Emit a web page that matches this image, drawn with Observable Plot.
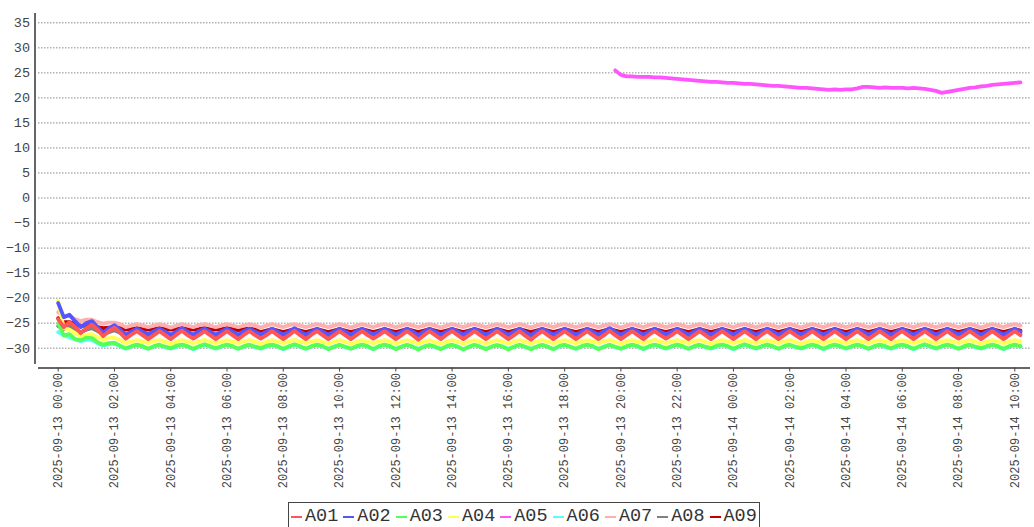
<!DOCTYPE html>
<html>
<head>
<meta charset="utf-8">
<script src="https://cdn.jsdelivr.net/npm/d3@7"></script>
<script src="https://cdn.jsdelivr.net/npm/@observablehq/plot@0.6"></script>
<style>
  body { margin: 0; background: #fff; }
  #wrap { position: relative; width: 1034px; height: 527px; overflow: hidden; }
  #legend {
    position: absolute; left: 288px; top: 502px;
    border: 1px solid #444; box-sizing: border-box;
    height: 30px; padding: 3px 2px 0 2px;
    display: flex; align-items: flex-start;
    font-family: "Liberation Mono", monospace; font-size: 18.5px; line-height: 21px; color: #333;
    white-space: nowrap;
  }
  .item { display: flex; align-items: center; margin-right: 5px; }
  .item:last-child { margin-right: 0; }
  .swatch { display: inline-block; width: 11px; height: 2px; margin-right: 3px; }
</style>
</head>
<body>
<div id="wrap"><div id="chart"></div><div id="legend"></div></div>
<script>
// ---- data ----
const seriesNames = ["A01", "A02", "A03", "A04", "A05", "A06", "A07", "A08", "A09"];
const seriesColors = ["#ff5555", "#5555ff", "#55ff55", "#ffff55", "#ff55ff", "#55ffff", "#ffafaf", "#808080", "#c00000"];
const startTime = "2025-09-13T00:00:00Z";
const stepMinutes = 12;
const A05StartIndex = 99;
const yTicks = [-30, -25, -20, -15, -10, -5, 0, 5, 10, 15, 20, 25, 30, 35];
const xTickLabels = [
  "2025-09-13 00:00", "2025-09-13 02:00", "2025-09-13 04:00", "2025-09-13 06:00",
  "2025-09-13 08:00", "2025-09-13 10:00", "2025-09-13 12:00", "2025-09-13 14:00",
  "2025-09-13 16:00", "2025-09-13 18:00", "2025-09-13 20:00", "2025-09-13 22:00",
  "2025-09-14 00:00", "2025-09-14 02:00", "2025-09-14 04:00", "2025-09-14 06:00",
  "2025-09-14 08:00", "2025-09-14 10:00"
];

const A01 = [
-24.2,-25.8,-24.8,-25.7,-27.0,-26.0,-25.3,-26.3,-27.6,-26.6,-25.9,-26.9,
-28.1,-27.3,-26.6,-27.4,-28.2,-27.4,-26.6,-27.4,-28.2,-27.3,-26.5,-27.4,-28.1,-27.4,-26.6,-27.4,
-28.2,-27.4,-26.6,-27.4,-28.2,-27.3,-26.6,-27.4,-28.1,-27.4,-26.6,-27.4,-28.2,-27.4,-26.5,-27.4,
-28.2,-27.3,-26.6,-27.4,-28.2,-27.4,-26.6,-27.4,-28.2,-27.4,-26.6,-27.4,-28.1,-27.4,-26.6,-27.4,
-28.2,-27.4,-26.6,-27.4,-28.3,-27.4,-26.6,-27.4,-28.2,-27.3,-26.6,-27.4,-28.2,-27.4,-26.6,-27.4,
-28.2,-27.4,-26.6,-27.4,-28.2,-27.4,-26.6,-27.5,-28.3,-27.4,-26.6,-27.4,-28.2,-27.4,-26.6,-27.4,
-28.2,-27.4,-26.6,-27.4,-28.2,-27.4,-26.5,-27.4,-28.2,-27.4,-26.6,-27.4,-28.2,-27.3,-26.6,-27.4,
-28.1,-27.4,-26.6,-27.4,-28.2,-27.4,-26.6,-27.4,-28.2,-27.4,-26.6,-27.4,-28.2,-27.4,-26.6,-27.4,
-28.2,-27.3,-26.6,-27.4,-28.2,-27.4,-26.6,-27.4,-28.1,-27.4,-26.6,-27.4,-28.2,-27.4,-26.6,-27.4,
-28.2,-27.4,-26.6,-27.4,-28.2,-27.4,-26.6,-27.4,-28.2,-27.3,-26.6,-27.4,-28.2,-27.4,-26.6,-27.4,
-28.2,-27.4,-26.6,-27.4,-28.1,-27.4,-26.6,-27.4,-28.2,-27.4,-26.6,-27.4,-28.2,-27.4,-26.6,-27.4
];
const A02 = [
-21.0,-23.8,-23.3,-24.6,-25.8,-25.0,-24.6,-25.8,-26.9,-26.0,-25.4,-26.3,
-27.3,-26.7,-26.1,-26.7,-27.2,-26.6,-26.1,-26.7,-27.3,-26.7,-26.0,-26.7,-27.3,-26.6,-26.1,-26.7,
-27.3,-26.7,-26.1,-26.7,-27.3,-26.6,-26.1,-26.7,-27.2,-26.7,-26.1,-26.7,-27.3,-26.7,-26.0,-26.7,
-27.3,-26.7,-26.1,-26.7,-27.3,-26.7,-26.1,-26.7,-27.3,-26.6,-26.1,-26.7,-27.2,-26.7,-26.1,-26.7,
-27.3,-26.7,-26.1,-26.7,-27.4,-26.7,-26.1,-26.7,-27.3,-26.7,-26.1,-26.7,-27.3,-26.6,-26.1,-26.7,
-27.3,-26.7,-26.1,-26.7,-27.3,-26.7,-26.1,-26.8,-27.4,-26.7,-26.1,-26.7,-27.3,-26.7,-26.1,-26.7,
-27.3,-26.7,-26.1,-26.7,-27.3,-26.6,-26.0,-26.7,-27.3,-26.7,-26.1,-26.7,-27.3,-26.7,-26.1,-26.7,
-27.2,-26.7,-26.1,-26.7,-27.3,-26.7,-26.1,-26.7,-27.3,-26.7,-26.1,-26.7,-27.3,-26.6,-26.1,-26.7,
-27.3,-26.7,-26.1,-26.7,-27.3,-26.7,-26.1,-26.7,-27.2,-26.7,-26.1,-26.7,-27.3,-26.7,-26.1,-26.7,
-27.3,-26.7,-26.1,-26.7,-27.3,-26.7,-26.1,-26.7,-27.3,-26.7,-26.1,-26.7,-27.3,-26.7,-26.1,-26.7,
-27.3,-26.7,-26.1,-26.7,-27.2,-26.7,-26.1,-26.7,-27.3,-26.7,-26.1,-26.7,-27.3,-26.7,-26.1,-26.7
];
const A03 = [
-25.0,-27.5,-27.2,-28.2,-28.4,-27.9,-28.0,-28.8,-29.3,-29.0,-28.9,-29.5,
-30.0,-29.6,-29.3,-29.6,-30.1,-29.6,-29.3,-29.7,-30.0,-29.5,-29.3,-29.6,-30.1,-29.6,-29.2,-29.6,
-30.0,-29.6,-29.3,-29.6,-30.1,-29.6,-29.3,-29.7,-30.0,-29.5,-29.3,-29.6,-30.1,-29.6,-29.2,-29.6,
-30.1,-29.6,-29.3,-29.6,-30.2,-29.7,-29.3,-29.7,-30.1,-29.6,-29.3,-29.6,-30.2,-29.6,-29.3,-29.6,
-30.2,-29.7,-29.3,-29.7,-30.3,-29.7,-29.4,-29.7,-30.2,-29.6,-29.3,-29.7,-30.3,-29.7,-29.3,-29.7,
-30.2,-29.7,-29.4,-29.7,-30.3,-29.7,-29.3,-29.7,-30.2,-29.7,-29.3,-29.7,-30.2,-29.6,-29.3,-29.7,
-30.1,-29.6,-29.3,-29.6,-30.2,-29.7,-29.3,-29.7,-30.1,-29.6,-29.3,-29.6,-30.1,-29.6,-29.3,-29.6,
-30.0,-29.6,-29.3,-29.6,-30.1,-29.6,-29.3,-29.7,-30.0,-29.5,-29.3,-29.6,-30.1,-29.6,-29.2,-29.6,
-30.0,-29.6,-29.3,-29.6,-30.1,-29.6,-29.3,-29.7,-30.0,-29.6,-29.3,-29.6,-30.1,-29.6,-29.3,-29.6,
-30.0,-29.6,-29.3,-29.6,-30.1,-29.6,-29.3,-29.6,-30.0,-29.5,-29.3,-29.6,-30.1,-29.6,-29.2,-29.6,
-30.0,-29.6,-29.3,-29.6,-30.1,-29.6,-29.3,-29.7,-30.0,-29.6,-29.3,-29.6,-30.1,-29.6,-29.3,-29.6
];
const A04 = [
-20.6,-26.0,-26.3,-27.0,-27.6,-27.3,-27.2,-27.8,-28.3,-28.0,-27.9,-28.4,
-29.0,-28.7,-28.4,-28.7,-29.0,-28.6,-28.4,-28.7,-29.1,-28.7,-28.4,-28.7,-29.0,-28.7,-28.3,-28.7,
-29.0,-28.7,-28.4,-28.7,-29.0,-28.6,-28.4,-28.7,-29.1,-28.7,-28.4,-28.7,-29.0,-28.7,-28.3,-28.7,
-29.0,-28.7,-28.4,-28.7,-29.1,-28.7,-28.4,-28.7,-29.1,-28.7,-28.4,-28.7,-29.0,-28.7,-28.4,-28.7,
-29.1,-28.7,-28.4,-28.7,-29.1,-28.7,-28.4,-28.8,-29.1,-28.7,-28.4,-28.7,-29.1,-28.7,-28.4,-28.7,
-29.1,-28.7,-28.4,-28.7,-29.1,-28.7,-28.4,-28.7,-29.1,-28.7,-28.4,-28.7,-29.0,-28.7,-28.4,-28.7,
-29.0,-28.7,-28.4,-28.7,-29.0,-28.6,-28.4,-28.7,-29.1,-28.7,-28.4,-28.7,-29.0,-28.7,-28.3,-28.7,
-29.0,-28.7,-28.4,-28.7,-29.0,-28.6,-28.4,-28.7,-29.1,-28.7,-28.4,-28.7,-29.0,-28.7,-28.3,-28.7,
-29.0,-28.7,-28.4,-28.7,-29.0,-28.7,-28.4,-28.7,-29.1,-28.7,-28.4,-28.7,-29.0,-28.7,-28.4,-28.7,
-29.0,-28.7,-28.4,-28.7,-29.0,-28.6,-28.4,-28.7,-29.0,-28.7,-28.4,-28.7,-29.0,-28.7,-28.3,-28.7,
-29.0,-28.7,-28.4,-28.7,-29.0,-28.7,-28.4,-28.7,-29.1,-28.7,-28.4,-28.7,-29.0,-28.7,-28.4,-28.7
];
const A05 = [
25.5, 24.6, 24.3, 24.3, 24.2, 24.2, 24.2, 24.1, 24.1, 24.0,
23.9, 23.8, 23.7, 23.6, 23.5, 23.4, 23.3, 23.2, 23.2, 23.1,
23.0, 23.0, 22.9, 22.8, 22.8, 22.7, 22.6, 22.5, 22.4, 22.4,
22.3, 22.2, 22.1, 22.0, 22.0, 21.9, 21.8, 21.7, 21.6, 21.7,
21.6, 21.7, 21.7, 21.9, 22.2, 22.2, 22.1, 22.0, 22.1, 22.0,
22.0, 22.0, 21.9, 22.0, 21.9, 21.8, 21.6, 21.4, 21.0, 21.2,
21.4, 21.6, 21.8, 22.0, 22.1, 22.3, 22.4, 22.6, 22.7, 22.8,
22.9, 23.0, 23.1
];
const A06 = [
-26.8,-27.3,-27.9,-28.2,-28.6,-28.3,-28.4,-29.0,-29.5,-29.2,-29.1,-29.6,
-30.1,-29.7,-29.4,-29.7,-30.1,-29.7,-29.4,-29.8,-30.1,-29.7,-29.4,-29.7,-30.2,-29.7,-29.4,-29.7,
-30.1,-29.7,-29.4,-29.7,-30.1,-29.7,-29.4,-29.8,-30.1,-29.7,-29.4,-29.7,-30.2,-29.7,-29.4,-29.7,
-30.1,-29.7,-29.4,-29.7,-30.1,-29.7,-29.4,-29.8,-30.1,-29.7,-29.4,-29.7,-30.2,-29.7,-29.4,-29.7,
-30.1,-29.7,-29.4,-29.7,-30.1,-29.7,-29.4,-29.8,-30.1,-29.7,-29.4,-29.7,-30.2,-29.7,-29.4,-29.7,
-30.1,-29.7,-29.4,-29.7,-30.1,-29.7,-29.4,-29.8,-30.1,-29.7,-29.4,-29.7,-30.2,-29.7,-29.4,-29.7,
-30.1,-29.7,-29.4,-29.7,-30.1,-29.7,-29.4,-29.8,-30.1,-29.7,-29.4,-29.7,-30.2,-29.7,-29.4,-29.7,
-30.1,-29.7,-29.4,-29.7,-30.1,-29.7,-29.4,-29.8,-30.1,-29.7,-29.4,-29.7,-30.2,-29.7,-29.4,-29.7,
-30.1,-29.7,-29.4,-29.7,-30.1,-29.7,-29.4,-29.8,-30.1,-29.7,-29.4,-29.7,-30.2,-29.7,-29.4,-29.7,
-30.1,-29.7,-29.4,-29.7,-30.1,-29.7,-29.4,-29.8,-30.1,-29.7,-29.4,-29.7,-30.2,-29.7,-29.4,-29.7,
-30.1,-29.7,-29.4,-29.7,-30.1,-29.7,-29.4,-29.8,-30.1,-29.7,-29.4,-29.7,-30.2,-29.7,-29.4,-29.7
];
const A07 = [
-22.8,-23.6,-23.6,-24.2,-24.6,-24.3,-24.3,-24.8,-25.1,-24.9,-24.9,-25.2,
-25.8,-25.5,-25.2,-25.5,-25.8,-25.5,-25.2,-25.5,-25.9,-25.5,-25.2,-25.5,-25.8,-25.4,-25.2,-25.5,
-25.8,-25.5,-25.2,-25.5,-25.8,-25.5,-25.2,-25.5,-25.9,-25.5,-25.2,-25.5,-25.8,-25.4,-25.2,-25.5,
-25.8,-25.5,-25.2,-25.5,-25.8,-25.5,-25.2,-25.5,-25.9,-25.5,-25.2,-25.5,-25.8,-25.4,-25.2,-25.5,
-25.8,-25.5,-25.2,-25.5,-25.8,-25.5,-25.2,-25.5,-25.9,-25.5,-25.2,-25.5,-25.8,-25.4,-25.2,-25.5,
-25.8,-25.5,-25.2,-25.5,-25.8,-25.5,-25.2,-25.5,-25.9,-25.5,-25.2,-25.5,-25.8,-25.4,-25.2,-25.5,
-25.8,-25.5,-25.2,-25.5,-25.8,-25.5,-25.2,-25.5,-25.9,-25.5,-25.2,-25.5,-25.8,-25.4,-25.2,-25.5,
-25.8,-25.5,-25.2,-25.5,-25.8,-25.5,-25.2,-25.5,-25.9,-25.5,-25.2,-25.5,-25.8,-25.4,-25.2,-25.5,
-25.8,-25.5,-25.2,-25.5,-25.8,-25.5,-25.2,-25.5,-25.9,-25.5,-25.2,-25.5,-25.8,-25.4,-25.2,-25.5,
-25.8,-25.5,-25.2,-25.5,-25.8,-25.5,-25.2,-25.5,-25.9,-25.5,-25.2,-25.5,-25.8,-25.4,-25.2,-25.5,
-25.8,-25.5,-25.2,-25.5,-25.8,-25.5,-25.2,-25.5,-25.9,-25.5,-25.2,-25.5,-25.8,-25.4,-25.2,-25.5
];
const A08 = [
-25.6,-26.2,-25.6,-26.2,-26.8,-26.3,-26.0,-26.6,-27.2,-26.8,-26.4,-26.9,
-27.6,-27.0,-26.5,-27.0,-27.6,-27.1,-26.5,-27.0,-27.6,-27.0,-26.4,-27.0,-27.5,-27.0,-26.5,-27.0,
-27.6,-27.0,-26.5,-27.0,-27.6,-27.1,-26.5,-27.0,-27.6,-27.0,-26.4,-27.0,-27.5,-27.0,-26.5,-27.0,
-27.6,-27.0,-26.5,-27.0,-27.6,-27.1,-26.5,-27.0,-27.6,-27.0,-26.4,-27.0,-27.5,-27.0,-26.5,-27.0,
-27.6,-27.0,-26.5,-27.0,-27.6,-27.1,-26.5,-27.0,-27.6,-27.0,-26.4,-27.0,-27.5,-27.0,-26.5,-27.0,
-27.6,-27.0,-26.5,-27.0,-27.6,-27.1,-26.5,-27.0,-27.6,-27.0,-26.4,-27.0,-27.5,-27.0,-26.5,-27.0,
-27.6,-27.0,-26.5,-27.0,-27.6,-27.1,-26.5,-27.0,-27.6,-27.0,-26.4,-27.0,-27.5,-27.0,-26.5,-27.0,
-27.6,-27.0,-26.5,-27.0,-27.6,-27.1,-26.5,-27.0,-27.6,-27.0,-26.4,-27.0,-27.5,-27.0,-26.5,-27.0,
-27.6,-27.0,-26.5,-27.0,-27.6,-27.1,-26.5,-27.0,-27.6,-27.0,-26.4,-27.0,-27.5,-27.0,-26.5,-27.0,
-27.6,-27.0,-26.5,-27.0,-27.6,-27.1,-26.5,-27.0,-27.6,-27.0,-26.4,-27.0,-27.5,-27.0,-26.5,-27.0,
-27.6,-27.0,-26.5,-27.0,-27.6,-27.1,-26.5,-27.0,-27.6,-27.0,-26.4,-27.0,-27.5,-27.0,-26.5,-27.0
];
const A09 = [
-24.0,-24.8,-24.8,-25.2,-25.6,-25.5,-25.5,-25.8,-26.0,-25.9,-25.9,-26.0,
-26.3,-26.2,-26.0,-26.2,-26.3,-26.2,-26.0,-26.2,-26.3,-26.2,-26.0,-26.2,-26.3,-26.2,-26.0,-26.2,
-26.3,-26.2,-26.0,-26.2,-26.4,-26.2,-26.1,-26.3,-26.8,-26.5,-26.2,-26.5,-26.8,-26.5,-26.2,-26.5,
-26.8,-26.5,-26.2,-26.5,-26.8,-26.5,-26.2,-26.5,-26.8,-26.5,-26.2,-26.5,-26.8,-26.5,-26.2,-26.5,
-26.8,-26.5,-26.2,-26.5,-26.8,-26.5,-26.2,-26.5,-26.8,-26.5,-26.2,-26.5,-26.8,-26.5,-26.2,-26.5,
-26.8,-26.5,-26.2,-26.5,-26.8,-26.5,-26.2,-26.5,-26.8,-26.5,-26.2,-26.5,-26.8,-26.5,-26.2,-26.5,
-26.8,-26.5,-26.2,-26.5,-26.8,-26.5,-26.2,-26.5,-26.8,-26.5,-26.2,-26.5,-26.8,-26.5,-26.2,-26.5,
-26.8,-26.5,-26.2,-26.5,-26.8,-26.5,-26.2,-26.5,-26.8,-26.5,-26.2,-26.5,-26.8,-26.5,-26.2,-26.5,
-26.8,-26.5,-26.2,-26.5,-26.8,-26.5,-26.2,-26.5,-26.8,-26.5,-26.2,-26.5,-26.8,-26.5,-26.2,-26.5,
-26.8,-26.5,-26.2,-26.5,-26.8,-26.5,-26.2,-26.5,-26.8,-26.5,-26.2,-26.5,-26.8,-26.5,-26.2,-26.5,
-26.8,-26.5,-26.2,-26.5,-26.8,-26.5,-26.2,-26.5,-26.8,-26.5,-26.2,-26.5,-26.8,-26.5,-26.2,-26.5
];

// ---- build table ----
const valuesByName = {A01, A02, A03, A04, A05, A06, A07, A08, A09};
const t0 = new Date(startTime).getTime();
const stepMs = stepMinutes * 60000;
const drawOrder = seriesNames.slice().reverse(); // A01 on top
const rows = drawOrder.flatMap(name => {
  const vals = valuesByName[name];
  const offset = name === "A05" ? A05StartIndex : 0;
  return vals.map((v, i) => ({series: name, time: new Date(t0 + (i + offset) * stepMs), value: v}));
});

const parseTick = d3.utcParse("%Y-%m-%d %H:%M");
const fmtTick = d3.utcFormat("%Y-%m-%d %H:%M");
const xTicks = xTickLabels.map(parseTick);
const xDomain = [new Date("2025-09-12T23:18:00Z"), new Date("2025-09-14T10:33:30Z")];
const yDomain = [-33.26, 36.86];
const tickFont = "Liberation Mono, DejaVu Sans Mono, monospace";

const chart = Plot.plot({
  width: 1034,
  height: 500,
  marginLeft: 38,
  marginRight: 4,
  marginTop: 13,
  marginBottom: 136,
  style: {background: "#fff", fontFamily: tickFont},
  x: {type: "utc", domain: xDomain, label: null},
  y: {domain: yDomain, label: null},
  color: {domain: seriesNames, range: seriesColors},
  marks: [
    Plot.ruleY(yTicks, {stroke: "#8a8a8a", strokeWidth: 1, strokeDasharray: "1.5,1.5"}),
    Plot.line(rows, {x: "time", y: "value", z: "series", stroke: "series", strokeWidth: 3.8, strokeLinejoin: "round"}),
    Plot.ruleX([xDomain[0]], {dx: -3.5, stroke: "#666", strokeWidth: 2}),
    Plot.ruleY([yDomain[0]], {dy: 3.5, stroke: "#666", strokeWidth: 2}),
    Plot.axisY({ticks: yTicks, tickSize: 0, tickPadding: 8.5, fontSize: 13.5, fontFamily: tickFont, color: "#444", label: null}),
    Plot.axisX({ticks: xTicks, tickFormat: fmtTick, tickRotate: -90, tickSize: 4, tickPadding: 1, dy: 3.5,
                fontSize: 12, fontFamily: tickFont, color: "#444", label: null})
  ]
});
document.getElementById("chart").appendChild(chart);

// ---- legend ----
const legend = document.getElementById("legend");
seriesNames.forEach((name, i) => {
  const item = document.createElement("div");
  item.className = "item";
  const sw = document.createElement("span");
  sw.className = "swatch";
  sw.style.background = seriesColors[i];
  const label = document.createElement("span");
  label.textContent = name;
  item.appendChild(sw);
  item.appendChild(label);
  legend.appendChild(item);
});
</script>
</body>
</html>
